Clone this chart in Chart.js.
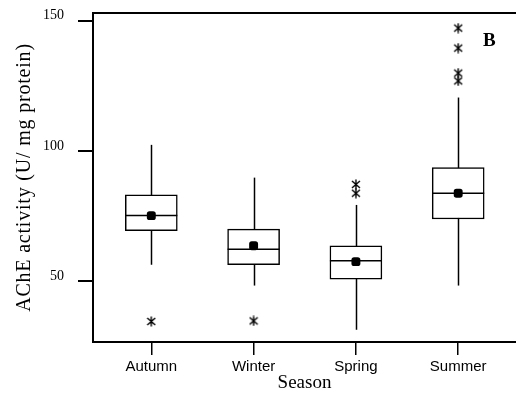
<!DOCTYPE html>
<html>
<head>
<meta charset="utf-8">
<script src="https://cdn.jsdelivr.net/npm/chart.js@4"></script>
<style>
  html, body { margin: 0; padding: 0; background: #fff; }
  #wrap { width: 516px; height: 409px; }
</style>
</head>
<body>
<div id="wrap"><canvas id="chart"></canvas></div>
<script>
/* AChE activity by season — box plot (panel B) */

const SEASONS      = ['Autumn', 'Winter', 'Spring', 'Summer'];
const Q1           = [69.3, 56.2, 50.7, 73.8];
const Q3           = [83.1, 69.9, 63.5, 93.6];
const MEDIANS      = [75.1, 62.2, 57.7, 83.7];
const MEANS        = [75.1, 63.5, 57.4, 83.7];
const WHISKER_LOW  = [56.2, 48.2, 31.2, 48.2];
const WHISKER_HIGH = [102.3, 89.7, 79.2, 120.5];
const OUTLIERS     = [[34.4], [34.6], [87.1, 83.7], [147.2, 139.5, 129.9, 126.9]];
const Y_TICKS      = [50, 100, 150];
const Y_TITLE      = 'AChE activity (U/ mg protein)';

const SERIF = "'Liberation Serif', 'Times New Roman', serif";
const SANS  = "'Liberation Sans', Arial, sans-serif";

// asterisk marker used for outliers
function makeAsterisk() {
  const c = document.createElement('canvas');
  c.width = 10; c.height = 11;
  const g = c.getContext('2d');
  g.strokeStyle = '#000';
  g.lineWidth = 1.4;
  g.beginPath();
  g.moveTo(5, 0.5);  g.lineTo(5, 10.5);
  g.moveTo(1, 2);    g.lineTo(9, 9);
  g.moveTo(1, 9);    g.lineTo(9, 2);
  g.stroke();
  return c;
}

const boxData     = SEASONS.map((_, i) => ({ x: i + 1, y: [Q1[i], Q3[i]] }));
const meanData    = SEASONS.map((_, i) => ({ x: i + 1, y: MEANS[i] }));
const outlierData = OUTLIERS.flatMap((vals, i) => vals.map(v => ({ x: i + 1, y: v })));

// whiskers behind the boxes; medians, frame top, y title and panel letter on top
const boxPlotPlugin = {
  id: 'boxPlot',
  beforeDatasetsDraw(chart) {
    const { ctx, scales: { x, y } } = chart;
    ctx.save();
    ctx.strokeStyle = '#000';
    ctx.lineWidth = 1.5;
    SEASONS.forEach((_, i) => {
      const px = Math.round(x.getPixelForValue(i + 1)) + 0.5;
      ctx.beginPath();
      ctx.moveTo(px, y.getPixelForValue(WHISKER_LOW[i]));
      ctx.lineTo(px, y.getPixelForValue(WHISKER_HIGH[i]));
      ctx.stroke();
    });
    ctx.restore();
  },
  afterDatasetsDraw(chart) {
    const { ctx, chartArea, scales: { x, y } } = chart;
    const half = 26;
    ctx.save();
    ctx.strokeStyle = '#000';
    ctx.lineWidth = 1.5;
    SEASONS.forEach((_, i) => {
      const px = x.getPixelForValue(i + 1);
      const py = y.getPixelForValue(MEDIANS[i]);
      ctx.beginPath();
      ctx.moveTo(px - half, py);
      ctx.lineTo(px + half, py);
      ctx.stroke();
    });
    ctx.lineWidth = 2;
    ctx.beginPath();
    ctx.moveTo(chartArea.left - 1, chartArea.top);
    ctx.lineTo(chartArea.right, chartArea.top);
    ctx.stroke();

    ctx.fillStyle = '#000';
    ctx.font = 'bold 19px ' + SERIF;
    ctx.textAlign = 'left';
    ctx.textBaseline = 'middle';
    ctx.fillText('B', chartArea.right - 33, chartArea.top + 28);

    // rotated axis title, spaced out a little
    ctx.translate(25, (chartArea.top + chartArea.bottom) / 2);
    ctx.rotate(-Math.PI / 2);
    ctx.font = '20px ' + SERIF;
    ctx.letterSpacing = '0.8px';
    ctx.textAlign = 'center';
    ctx.fillText(Y_TITLE, 0, 0);
    ctx.restore();
  }
};

new Chart(document.getElementById('chart'), {
  type: 'bar',
  data: {
    datasets: [
      {
        type: 'scatter',
        data: meanData,
        pointStyle: 'rectRounded',
        pointRadius: 5.2,
        backgroundColor: '#000',
        borderColor: '#000',
        borderWidth: 0,
        order: 0
      },
      {
        type: 'scatter',
        data: outlierData,
        pointStyle: makeAsterisk(),
        order: 0
      },
      {
        type: 'bar',
        data: boxData,
        backgroundColor: '#fff',
        borderColor: '#000',
        borderWidth: 1.5,
        borderSkipped: false,
        barThickness: 52,
        order: 1
      }
    ]
  },
  options: {
    responsive: true,
    maintainAspectRatio: false,
    animation: false,
    layout: { autoPadding: false, padding: { top: 13, left: 0, right: 0, bottom: 0 } },
    plugins: {
      legend: { display: false },
      tooltip: { enabled: false }
    },
    scales: {
      x: {
        type: 'linear',
        offset: false,
        min: 0.43,
        max: 4.565,
        afterBuildTicks: s => { s.ticks = SEASONS.map((_, i) => ({ value: i + 1 })); },
        afterFit: s => { s.height = 67; s.paddingLeft = 0; s.paddingRight = 0; },
        ticks: {
          callback: v => SEASONS[v - 1],
          color: '#000',
          font: { family: SANS, size: 15 },
          padding: 3,
          maxRotation: 0
        },
        grid: { offset: false, drawOnChartArea: false, drawTicks: true, tickLength: 13, color: '#000', lineWidth: 1.5 },
        border: { display: true, color: '#000', width: 2 },
        title: {
          display: true,
          text: 'Season',
          color: '#000',
          font: { family: SERIF, size: 19 },
          padding: 15
        }
      },
      y: {
        min: 26.5,
        max: 153,
        afterBuildTicks: s => { s.ticks = Y_TICKS.map(v => ({ value: v })); },
        afterFit: s => { s.width = 93; s.paddingTop = 0; s.paddingBottom = 0; },
        ticks: {
          color: '#000',
          font: { family: SERIF, size: 14 },
          padding: 14,
          labelOffset: -5
        },
        grid: { drawOnChartArea: false, drawTicks: true, tickLength: 15, color: '#000', lineWidth: 2 },
        border: { display: true, color: '#000', width: 2 }
      }
    }
  },
  plugins: [boxPlotPlugin]
});
</script>
</body>
</html>
